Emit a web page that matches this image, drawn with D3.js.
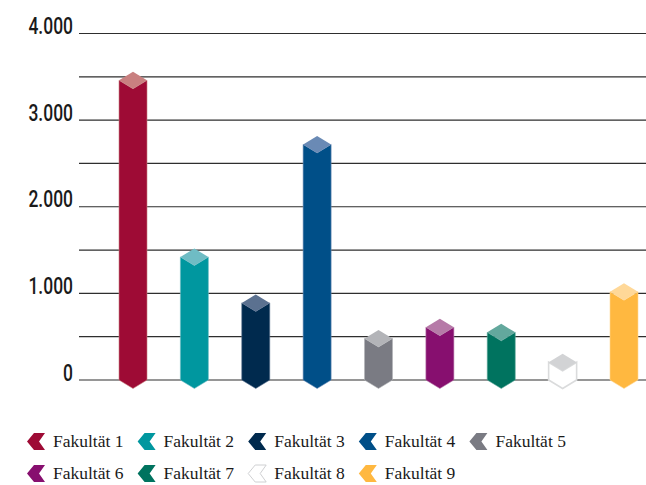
<!DOCTYPE html>
<html>
<head>
<meta charset="utf-8">
<script src="https://cdn.jsdelivr.net/npm/d3@7"></script>
<style>
  body { margin: 0; background: #fff; }
  svg { display: block; }
</style>
</head>
<body>
<svg id="chart" width="646" height="485"></svg>
<script>
const categories = ["Fakultät 1", "Fakultät 2", "Fakultät 3", "Fakultät 4", "Fakultät 5",
  "Fakultät 6", "Fakultät 7", "Fakultät 8", "Fakultät 9"];
const values = [3460, 1420, 890, 2720, 480, 610, 550, 205, 1020];
const yTicks = [0, 1000, 2000, 3000, 4000];
const gridValues = [0, 500, 1000, 1500, 2000, 2500, 3000, 3500, 4000];
const bodyColors = ["#9e0b35", "#00979f", "#002a4e", "#004f88", "#7a7b83",
  "#870f6f", "#00735f", "#ffffff", "#ffb840"];
const topColors = ["#c98080", "#6fbcc4", "#5b7190", "#6a8ab5", "#b3b4b8",
  "#b67aa8", "#63a89d", "#d2d3d5", "#ffd898"];

const width = 646;
const height = 485;
const margin = { top: 33.5, left: 79, bottom: 105 };
const halfW = 14;   // half bar width
const tip = 8.5;    // depth of rhombus / bottom point

const svg = d3.select("#chart");

const de = d3.formatLocale({ decimal: ",", thousands: ".", grouping: [3], currency: ["", " €"] });
const fmt = de.format(",");

const y = d3.scaleLinear()
  .domain([0, 4000])
  .range([height - margin.bottom, margin.top]);

const x = d3.scalePoint()
  .domain(categories)
  .range([133, 624]);

// grid lines
svg.append("g")
  .selectAll("line")
  .data(gridValues)
  .join("line")
  .attr("x1", margin.left)
  .attr("x2", width)
  .attr("y1", d => y(d))
  .attr("y2", d => y(d))
  .attr("stroke", "#2e2e2e")
  .attr("stroke-width", 1.2);

// y axis labels (condensed look via horizontal squeeze)
const yAxis = svg.append("g")
  .attr("transform", `translate(73, 0)`)
  .call(d3.axisLeft(y).tickValues(yTicks).tickFormat(fmt).tickSize(0).tickPadding(0));
yAxis.select(".domain").remove();
yAxis.selectAll("text")
  .attr("x", 0)
  .attr("dy", 0)
  .attr("transform", "scale(0.76,1)")
  .attr("fill", "#1a1a1a")
  .style("font-family", "Roboto, sans-serif")
  .style("font-weight", 500)
  .style("font-size", "23px");

const y0 = y(0);
const bars = categories.map((c, i) => ({
  cx: x(c),
  yv: y(values[i]),
  body: bodyColors[i],
  top: topColors[i],
  outline: i === 7 ? "#dadbdc" : topColors[i]
}));

const g = svg.append("g");

// bar bodies (prism with pointed bottom)
g.selectAll("path.body")
  .data(bars)
  .join("path")
  .attr("class", "body")
  .attr("d", d => `M${d.cx - halfW},${d.yv} L${d.cx},${d.yv + tip} L${d.cx + halfW},${d.yv}
    L${d.cx + halfW},${y0} L${d.cx},${y0 + tip} L${d.cx - halfW},${y0} Z`)
  .attr("fill", d => d.body)
  .attr("stroke", d => d.outline)
  .attr("stroke-opacity", (d, i) => i === 7 ? 1 : 0.6)
  .attr("stroke-width", (d, i) => i === 7 ? 1.6 : 1);

// top rhombus
g.selectAll("path.top")
  .data(bars)
  .join("path")
  .attr("class", "top")
  .attr("d", d => `M${d.cx},${d.yv - tip} L${d.cx + halfW},${d.yv} L${d.cx},${d.yv + tip} L${d.cx - halfW},${d.yv} Z`)
  .attr("fill", d => d.top);

// legend
const legend = svg.append("g");
const items = legend.selectAll("g")
  .data(categories.map((c, i) => ({ name: c, i })))
  .join("g")
  .attr("transform", d => {
    const row = d.i < 5 ? 0 : 1;
    const col = d.i < 5 ? d.i : d.i - 5;
    return `translate(${27 + col * 110.6}, ${433 + row * 32})`;
  });

items.append("path")
  .attr("d", "M0,8.5 L7,0 L18,0 L12,8.5 L18,17 L7,17 Z")
  .attr("fill", d => d.i === 7 ? "#ffffff" : bodyColors[d.i])
  .attr("stroke", d => d.i === 7 ? "#cfd0d2" : "none")
  .attr("stroke-width", 1);

items.append("text")
  .attr("x", 26)
  .attr("y", 14)
  .attr("fill", "#1a1a1a")
  .style("font-family", '"Liberation Serif", "DejaVu Serif", serif')
  .style("font-size", "17.5px")
  .text(d => d.name);
</script>
</body>
</html>
